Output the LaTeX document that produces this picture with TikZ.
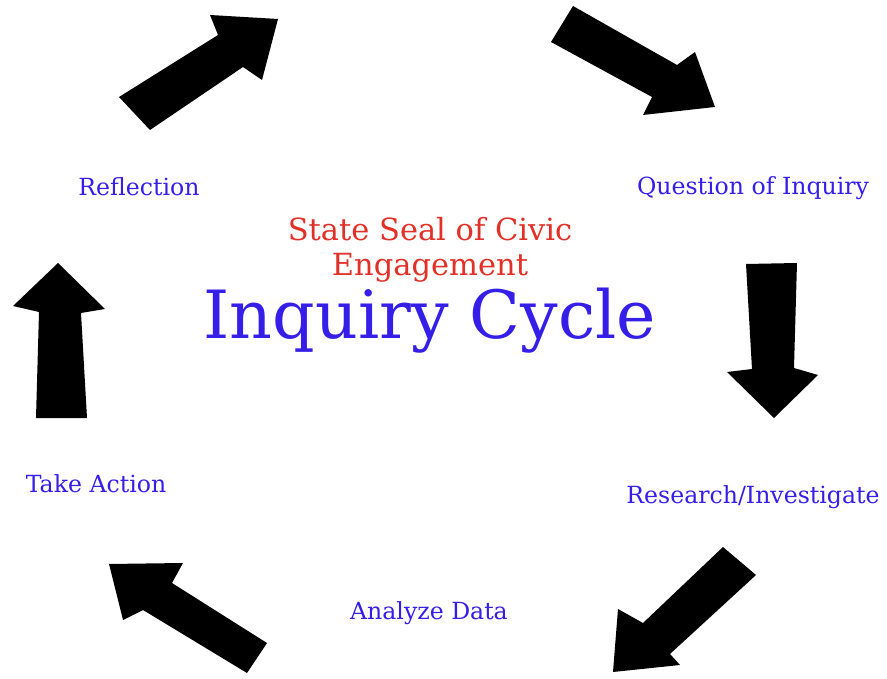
\documentclass[tikz,border=0pt]{standalone}
\usepackage{fontspec}
\setmainfont{DejaVu Serif}
\definecolor{cycleblue}{RGB}{52,30,232}
\definecolor{sealred}{RGB}{226,48,40}
\begin{document}
\begin{tikzpicture}[x=1pt, y=-1pt,
    bigarrow/.style={fill=black},
    stage/.style={text=cycleblue, font=\fontsize{23.6}{27}\selectfont, inner sep=0pt}]
  \useasboundingbox (0, 0) rectangle (887, 679);

  % the six arrows
  \fill[bigarrow] (119, 97) -- (150, 130) -- (243, 67) -- (262, 80) -- (278, 19) -- (210, 15) -- (218, 35) -- cycle;
  \fill[bigarrow] (573, 6) -- (551, 42) -- (652, 97) -- (643, 115) -- (715, 107) -- (695, 52) -- (677, 65) -- cycle;
  \fill[bigarrow] (746, 264) -- (797, 263) -- (794, 368) -- (818, 375) -- (774, 418) -- (727, 372) -- (752, 369) -- cycle;
  \fill[bigarrow] (723, 547) -- (756, 575) -- (670, 654) -- (680, 665) -- (613, 672) -- (618, 609) -- (643, 623) -- cycle;
  \fill[bigarrow] (267, 643) -- (247, 673) -- (143, 610) -- (123, 620) -- (109, 564) -- (183, 563) -- (172, 583) -- cycle;
  \fill[bigarrow] (36, 418) -- (87, 418) -- (81, 313) -- (105, 309) -- (58, 263) -- (13, 306) -- (39, 312) -- cycle;

  % stages
  \node[stage] (reflection) at (139, 187) {Reflection};
  \node[stage] (question) at (753, 188) {Question of Inquiry};
  \node[stage] (research) at (753, 497) {Research/Investigate};
  \node[stage] (analyze) at (429, 613) {Analyze Data};
  \node[stage] (action) at (96, 484) {Take Action};

  % title
  \node[text=sealred, font=\fontsize{30.5}{35}\selectfont, align=center, inner sep=0pt] (seal) at (430, 250) {State Seal of Civic\\Engagement};
  \node[text=cycleblue, font=\fontsize{66.5}{66}\selectfont, inner sep=0pt] (title) at (430, 321) {Inquiry Cycle};
\end{tikzpicture}
\end{document}
